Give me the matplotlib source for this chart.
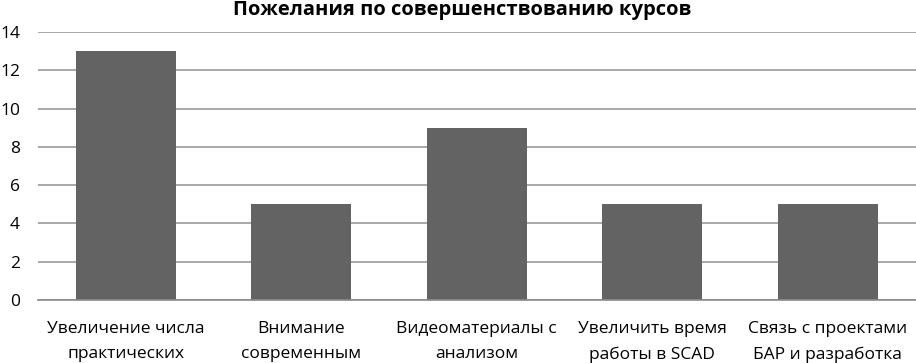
import matplotlib.pyplot as plt

categories = [
    "Увеличение числа\nпрактических",
    "Внимание\nсовременным",
    "Видеоматериалы с\nанализом",
    "Увеличить время\nработы в SCAD",
    "Связь с проектами\nБАР и разработка",
]
values = [13, 5, 9, 5, 5]
yticks = [0, 2, 4, 6, 8, 10, 12, 14]

plt.rcParams["font.family"] = ["Open Sans", "DejaVu Sans"]

fig = plt.figure(figsize=(9.16, 3.63), dpi=100)
ax = fig.add_axes([38 / 916, 63 / 363, 877.5 / 916, 268 / 363])

x = range(len(values))
ax.bar(x, values, width=0.57, color="#636363", zorder=2)

ax.set_xlim(-0.5, len(values) - 0.5)
ax.set_ylim(0, 14)
ax.set_yticks(yticks)
ax.set_yticklabels([str(t) for t in yticks], fontsize=12.5)
ax.set_xticks(list(x))
ax.set_xticklabels(categories, fontsize=12.5, linespacing=1.8)
ax.tick_params(axis="both", length=0)
ax.tick_params(axis="y", pad=13)
ax.tick_params(axis="x", pad=15)

ax.yaxis.grid(True, color="#9a9a9a", linewidth=1.2, zorder=0)
for s in ["top", "right", "left"]:
    ax.spines[s].set_visible(False)
ax.spines["bottom"].set_color("#8a8a8a")
ax.spines["bottom"].set_linewidth(1.2)

fig.text(462 / 916, 1 - 10 / 363, "Пожелания по совершенствованию курсов",
         ha="center", va="center", fontsize=14.5, fontweight="bold")

fig.savefig("out.png", dpi=100)
